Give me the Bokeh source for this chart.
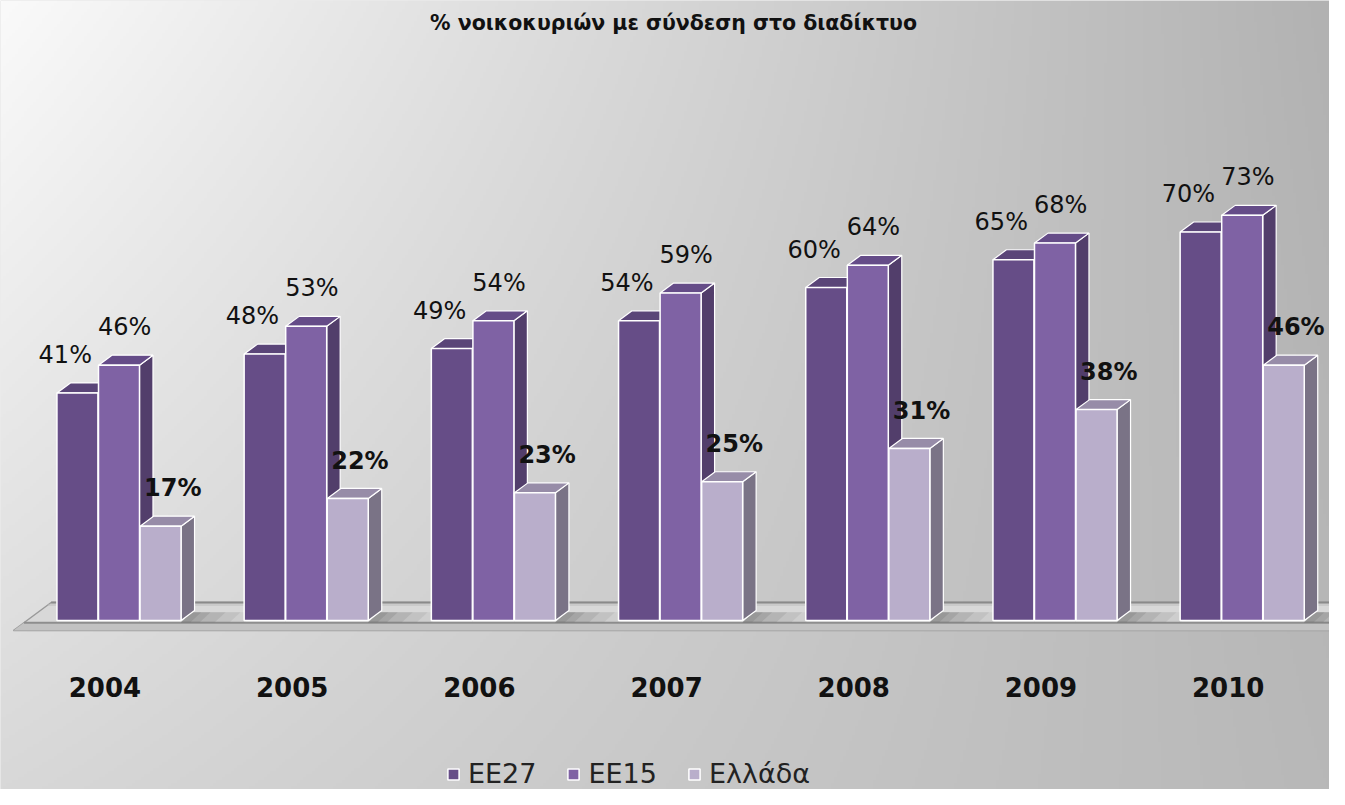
import numpy as np
from bokeh.plotting import figure
from bokeh.models import Range1d, Legend, LegendItem, Label, ColumnDataSource
from bokeh.core.properties import value
from bokeh.embed import file_html
from bokeh.resources import INLINE

# ---- data ----
years = ["2004", "2005", "2006", "2007", "2008", "2009", "2010"]
series_names = ["ΕΕ27", "ΕΕ15", "Ελλάδα"]
ee27 = [41, 48, 49, 54, 60, 65, 70]
ee15 = [46, 53, 54, 59, 64, 68, 73]
greece = [17, 22, 23, 25, 31, 38, 46]
title_text = "% νοικοκυριών με σύνδεση στο διαδίκτυο"

W, H = 1329, 789
PXU, PXY = 187.2, 5.55
X0 = -118.5 / PXU
X1 = X0 + W / PXU
Y1 = 620 / PXY
Y0 = -(H - 620) / PXY

p = figure(width=W, height=H, x_range=Range1d(X0, X1), y_range=Range1d(Y0, Y1),
           output_backend="svg", toolbar_location=None, min_border=0,
           x_axis_location=None, y_axis_location=None)
p.grid.visible = False
p.outline_line_color = None
p.background_fill_color = "#d8d8d8"
p.border_fill_color = "#d8d8d8"

# ---- gradient background ----
gh, gw = 263, 443
u = np.linspace(0, 1, gw)[None, :]
v = np.linspace(0, 1, gh)[:, None]  # 0 = bottom row, 1 = top row
tl, tr, bl, br = 250.0, 178.0, 216.0, 184.0
g = (tl * (1 - u) * v + tr * u * v + bl * (1 - u) * (1 - v) + br * u * (1 - v))
g = np.clip(g, 0, 255).astype(np.uint32)
img = (255 << 24) | (g << 16) | (g << 8) | g
p.image_rgba(image=[img.astype(np.uint32)], x=X0, y=Y0, dw=X1 - X0, dh=Y1 - Y0)

# ---- geometry constants ----
bw = 0.219
offsets = [-0.222, 0.0, 0.222]
dx, dy = 0.072, 1.8
slope = dx / dy
front_cols = ["#664d87", "#7f62a4", "#b9aecb"]
side_cols = ["#4f3c68", "#523e6b", "#7a7386"]
top_cols = ["#5a4578", "#654c88", "#978ca8"]

# ---- floor slab ----
n = len(years)
fy0, fyt, fy1 = -1.8, -0.4, 3.24
fxl, fxr = -0.564, n - 1 + 0.47
def sx(x, y):
    return x + (y - fy0) * slope
p.patch([fxl, fxr, sx(fxr, fy1), sx(fxl, fy1)], [fy0, fy0, fy1, fy1],
        fill_color="#d8d8d8", line_color="#9a9a9a", line_width=1.5)
p.patch([fxl, fxr, sx(fxr, fyt), sx(fxl, fyt)], [fy0, fy0, fyt, fyt],
        fill_color="#c2c2c2", line_color=None)
p.line([sx(fxl, fyt), sx(fxr, fyt)], [fyt, fyt], line_color="#8e8e8e", line_width=2)
p.line([sx(fxl, fy1), sx(fxr, fy1)], [fy1, fy1], line_color="#8a8a8a", line_width=2)
p.line([sx(fxl, fy1 - 0.45), sx(fxr, fy1 - 0.45)], [fy1 - 0.45, fy1 - 0.45],
       line_color="#bcbcbc", line_width=1)

# soft shadow to the right of each group
right_edge = offsets[-1] + bw / 2
for ln, a in [(0.34, 0.06), (0.26, 0.08), (0.18, 0.10), (0.10, 0.12), (0.05, 0.12)]:
    xs_sh, ys_sh = [], []
    for i in range(n):
        r0 = i + right_edge
        xs_sh.append([r0, r0 + ln, r0 + ln + dx * 0.8, r0 + dx * 0.8])
        ys_sh.append([-0.3, -0.3, 1.5, 1.5])
    p.patches(xs_sh, ys_sh, fill_color="#3a3a3a", fill_alpha=a, line_color=None)

# ---- bars ----
vals = [ee27, ee15, greece]
legend_items = []
for s, (vv, off) in enumerate(zip(vals, offsets)):
    L = [i + off - bw / 2 for i in range(n)]
    R = [i + off + bw / 2 for i in range(n)]
    side_xs = [[r, r + dx, r + dx, r] for r in R]
    side_ys = [[0, dy, val + dy, val] for val in vv]
    top_xs = [[l, r, r + dx, l + dx] for l, r in zip(L, R)]
    top_ys = [[val, val, val + dy, val + dy] for val in vv]
    p.patches(side_xs, side_ys, fill_color=side_cols[s], line_color="white", line_width=1.2)
    p.patches(top_xs, top_ys, fill_color=top_cols[s], line_color="white", line_width=1.2)
    src = ColumnDataSource(dict(left=L, right=R, top=vv, bottom=[0] * n))
    r = p.quad(left="left", right="right", top="top", bottom="bottom", source=src,
               fill_color=front_cols[s], line_color="white", line_width=1.5)
    legend_items.append(LegendItem(label=series_names[s], renderers=[r]))

# ---- value labels ----
lab_off = [-0.065, 0.03, 0.065]
for s, vv in enumerate(vals):
    xs = [i + offsets[s] + lab_off[s] for i in range(n)]
    ys = [val + 4.3 for val in vv]
    txt = [f"{val}%" for val in vv]
    p.text(x=xs, y=ys, text=txt, text_font=value("DejaVu Sans"),
           text_font_size="24px",
           text_font_style="bold" if s == 2 else "normal",
           text_color="#111111", text_align="center", text_baseline="bottom")

# ---- year labels ----
p.text(x=[i - 0.075 for i in range(n)], y=[-12.07] * n, text=years,
       text_font=value("DejaVu Sans"), text_font_size="26px", text_font_style="bold",
       text_color="#111111", text_align="center", text_baseline="middle")

# ---- title ----
p.add_layout(Label(x=673, y=H - 22, x_units="screen", y_units="screen", text=title_text,
                   text_font="DejaVu Sans", text_font_size="20.5px", text_font_style="bold",
                   text_color="#111111", text_align="center", text_baseline="middle"))

# ---- legend ----
legend = Legend(items=legend_items, orientation="horizontal", location=(446, 0),
                glyph_width=14, glyph_height=14, label_text_font="DejaVu Sans",
                label_text_font_size="27px", label_text_color="#222222",
                label_standoff=8, spacing=30, padding=0, margin=0,
                background_fill_alpha=0, border_line_alpha=0)
p.add_layout(legend)

open("out.html", "w").write(file_html(p, INLINE))
